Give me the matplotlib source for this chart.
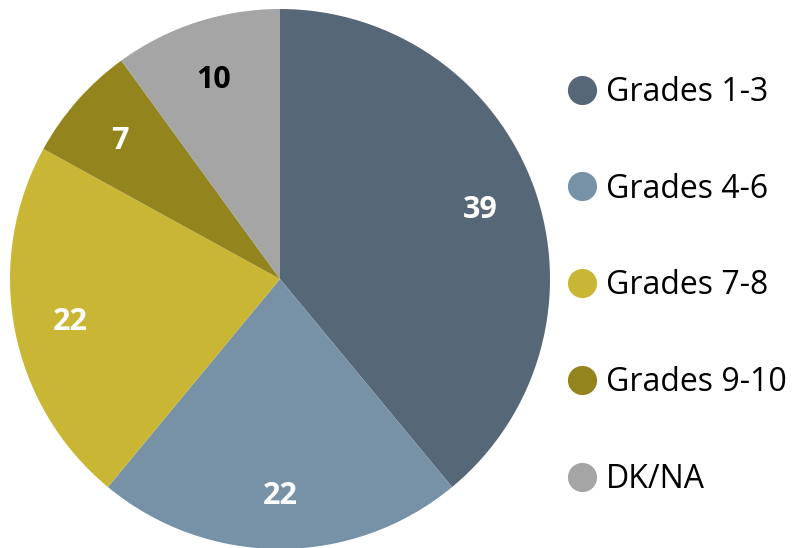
import matplotlib
matplotlib.use("Agg")
import matplotlib.pyplot as plt
from matplotlib.lines import Line2D

categories = ["Grades 1-3", "Grades 4-6", "Grades 7-8", "Grades 9-10", "DK/NA"]
values = [39, 22, 22, 7, 10]
colors = ["#566778", "#7792a7", "#c9b635", "#94841e", "#a5a5a5"]
label_colors = ["white", "white", "white", "white", "black"]

plt.rcParams['font.family'] = ['Open Sans', 'DejaVu Sans']

fig = plt.figure(figsize=(7.95, 5.48), dpi=100)
W, H = 795, 548
cx, cy, r = 280, 279, 270
ax = fig.add_axes([(cx - r) / W, (H - cy - r) / H, 2 * r / W, 2 * r / H])
wedges, texts = ax.pie(values, colors=colors, startangle=90, counterclock=False,
                       labels=[str(v) for v in values], labeldistance=0.79,
                       radius=1.0, wedgeprops=dict(linewidth=0))
for t, c in zip(texts, label_colors):
    t.set_color(c)
    t.set_fontsize(22)
    t.set_fontweight('bold')
    t.set_ha('center')
    t.set_va('center_baseline')
ax.set_xlim(-1, 1)
ax.set_ylim(-1, 1)
ax.set_aspect('equal')
ax.axis('off')

handles = [Line2D([], [], marker='o', linestyle='none', markersize=21,
                  markerfacecolor=c, markeredgewidth=0) for c in colors]
fig.legend(handles, categories, loc='center left',
           bbox_to_anchor=(566 / W, (H - 286) / H), frameon=False,
           fontsize=23, labelspacing=2.0, handletextpad=0.25,
           borderpad=0, borderaxespad=0, handlelength=1.0)

fig.savefig("out.png", dpi=100)
